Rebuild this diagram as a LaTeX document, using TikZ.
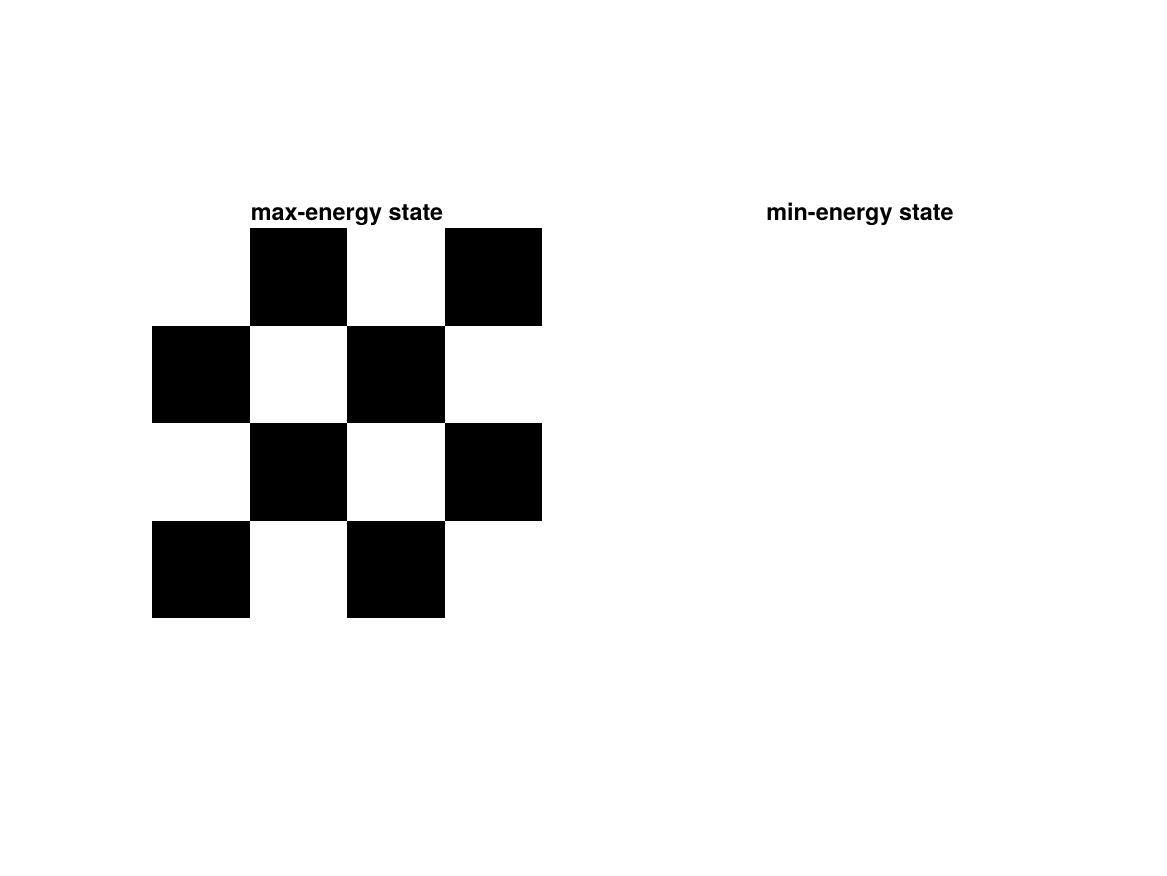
\documentclass[tikz,border=0pt]{standalone}
\usepackage{fontspec}
\setmainfont{TeX Gyre Heros}
\usepackage{tikz}
\usetikzlibrary{positioning}

\begin{document}
\begin{tikzpicture}[
    x=0.5pt, y=-0.5pt,
    panel title/.style={font=\fontsize{11.7}{14}\selectfont\bfseries, anchor=base, inner sep=0pt},
    spin up/.style={fill=black},
]
    \useasboundingbox (0,0) rectangle (1167,875);

    % max-energy state: checkerboard
    \node[panel title] (maxtitle) at (347,220) {max-energy state};
    \foreach \i in {0,...,3}
        \foreach \j in {0,...,3} {
            \pgfmathtruncatemacro{\odd}{mod(\i+\j,2)}
            \ifnum\odd=1
                \fill[spin up] ({152+97.5*\j},{228+97.5*\i}) rectangle ++(97.5,97.5);
            \fi
        }

    % min-energy state: all white
    \node[panel title] (mintitle) at (860,220) {min-energy state};
\end{tikzpicture}
\end{document}
